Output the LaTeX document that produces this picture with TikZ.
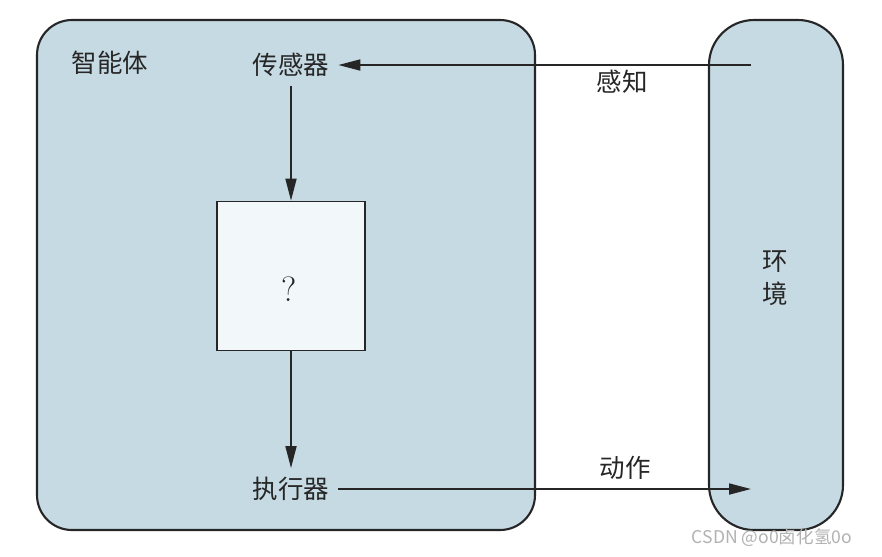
\documentclass[tikz,border=0pt]{standalone}
\usepackage{fontspec}
\newfontfamily\cjk{Noto Sans CJK SC}
\usetikzlibrary{arrows.meta}
\definecolor{paleblue}{HTML}{C6DAE3}
\definecolor{paperwhite}{HTML}{F2F7FA}
\definecolor{inkgrey}{HTML}{262626}

\tikzset{
  label/.style={inkgrey, font=\cjk\fontsize{14.5}{17}\selectfont, inner sep=1pt},
  part/.style={label, inner sep=5pt},
  flow/.style={inkgrey, line width=1pt, -{Triangle[length=4.4mm,width=2.2mm]}}
}

\begin{document}
\begin{tikzpicture}[x=0.02cm, y=-0.02cm]
  \useasboundingbox (0,0) rectangle (882,556);
  \fill[white] (0,0) rectangle (882,556);

  % agent and environment
  \draw[inkgrey, fill=paleblue, line width=1.2pt, rounded corners=0.7cm]
    (37,20) rectangle (535,530);
  \draw[inkgrey, fill=paleblue, line width=1.2pt, rounded corners=0.9cm]
    (709,20) rectangle (843,530);

  \node[label] (agent) at (110,63) {智能体};
  \node[part] (sensor) at (291,65) {传感器};
  \node[part] (actuator) at (291,489) {执行器};
  \node[label, align=center, font=\cjk\fontsize{14.5}{19}\selectfont]
    (world) at (775,278) {环\\境};

  \node[inkgrey, draw, fill=paperwhite, line width=1pt, minimum width=148*0.02cm,
    minimum height=149*0.02cm] (brain) at (291,276) {};
  \node[inkgrey, font=\fontsize{20}{22}\selectfont] (query) at (289,289) {?};

  \coordinate (percept) at (751,65);
  \coordinate (act) at (751,489);

  \draw[flow] (percept) -- (sensor.east);
  \draw[flow] (sensor.south) -- (brain.north);
  \draw[flow] (brain.south) -- (actuator.north);
  \draw[flow] (actuator.east) -- (act);

  \node[label] at (622,82) {感知};
  \node[label] at (625,468) {动作};

  \node[gray!60, font=\cjk\fontsize{10}{12}\selectfont] at (772,538) {CSDN @o0卤化氢0o};
\end{tikzpicture}
\end{document}
